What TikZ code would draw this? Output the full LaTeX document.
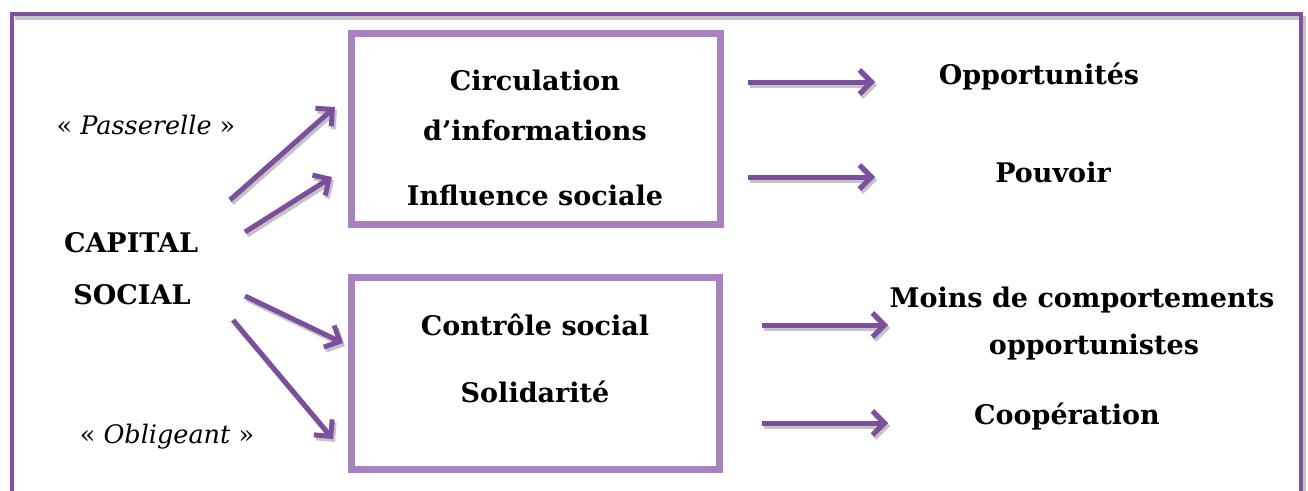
\documentclass[tikz,border=0pt]{standalone}
\usepackage{fontspec}
\setmainfont{DejaVu Serif}
\usetikzlibrary{arrows.meta}
\definecolor{framec}{HTML}{7F52A0}
\definecolor{boxc}{HTML}{A882C0}
\definecolor{arrc}{HTML}{7C4F9E}
\definecolor{shadc}{HTML}{C4C4C4}
\begin{document}
\begin{tikzpicture}[x=1pt,y=-1pt,
  lbl/.style={font=\fontsize{27}{32}\selectfont\bfseries, inner sep=0pt, anchor=center},
  ital/.style={font=\fontsize{25.5}{30}\selectfont, inner sep=0pt, anchor=center},
  boxn/.style={draw=boxc, line width=7pt, rectangle, inner sep=0pt},
  flow/.style={draw=arrc, line width=5pt, -{Straight Barb[length=12pt,width=24pt]}},
  flowshadow/.style={draw=shadc, line width=5pt, -{Straight Barb[length=12pt,width=24pt]}, transform canvas={xshift=2pt,yshift=-3pt}},
  frameline/.style={draw=framec, line width=4pt},
  frameshadow/.style={draw=shadc, line width=4pt}
]
\useasboundingbox (0,0) rectangle (1308,490);
% outer frame
\coordinate (fbl) at (11.5,520);
\coordinate (ftl) at (11.5,14);
\coordinate (ftr) at (1301,14);
\coordinate (fbr) at (1301,520);
\draw[frameshadow, transform canvas={xshift=3pt,yshift=-4pt}] (ftl) -- (ftr) -- (fbr);
\draw[frameline] (fbl) -- (ftl) -- (ftr) -- (fbr);
% boxes
\node[boxn, minimum width=369pt, minimum height=191pt] (topbox) at (535.5,128.5) {};
\node[boxn, minimum width=368pt, minimum height=192pt] (botbox) at (535,373) {};
% left labels
\node[ital] (pass) at (146,125) {« \textit{Passerelle} »};
\node[lbl] (cap1) at (131,243) {CAPITAL};
\node[lbl] (cap2) at (132,295) {SOCIAL};
\node[ital] (obl) at (167,437) {« \textit{Obligeant} »};
% box texts
\node[lbl] (t1) at (535,80) {Circulation};
\node[lbl] (t2) at (535,130) {d’informations};
\node[lbl] (t3) at (535,195) {Influence sociale};
\node[lbl] (b1) at (535,325) {Contrôle social};
\node[lbl] (b2) at (535,392) {Solidarité};
% right texts
\node[lbl] (r1) at (1039,77) {Opportunités};
\node[lbl] (r2) at (1053,172) {Pouvoir};
\node[lbl] (r3) at (1082,300) {Moins de comportements};
\node[lbl] (r4) at (1094,347) {opportunistes};
\node[lbl] (r5) at (1067,417) {Coopération};
% arrow end points
\coordinate (a1s) at (230,200); \coordinate (a1e) at (335,107);
\coordinate (a2s) at (245,232); \coordinate (a2e) at (332,177);
\coordinate (a3s) at (245,296); \coordinate (a3e) at (343,343);
\coordinate (a4s) at (233,320); \coordinate (a4e) at (333,439);
\coordinate (r1s) at (748,82); \coordinate (r1e) at (875,82);
\coordinate (r2s) at (748,177); \coordinate (r2e) at (875,177);
\coordinate (r3s) at (762,325); \coordinate (r3e) at (888,325);
\coordinate (r4s) at (762,423); \coordinate (r4e) at (888,423);
% shadows
\foreach \s/\e in {a1s/a1e,a2s/a2e,a3s/a3e,a4s/a4e,r1s/r1e,r2s/r2e,r3s/r3e,r4s/r4e}
  \draw[flowshadow] (\s) -- (\e);
% arrows
\foreach \s/\e in {a1s/a1e,a2s/a2e,a3s/a3e,a4s/a4e,r1s/r1e,r2s/r2e,r3s/r3e,r4s/r4e}
  \draw[flow] (\s) -- (\e);
\end{tikzpicture}
\end{document}
